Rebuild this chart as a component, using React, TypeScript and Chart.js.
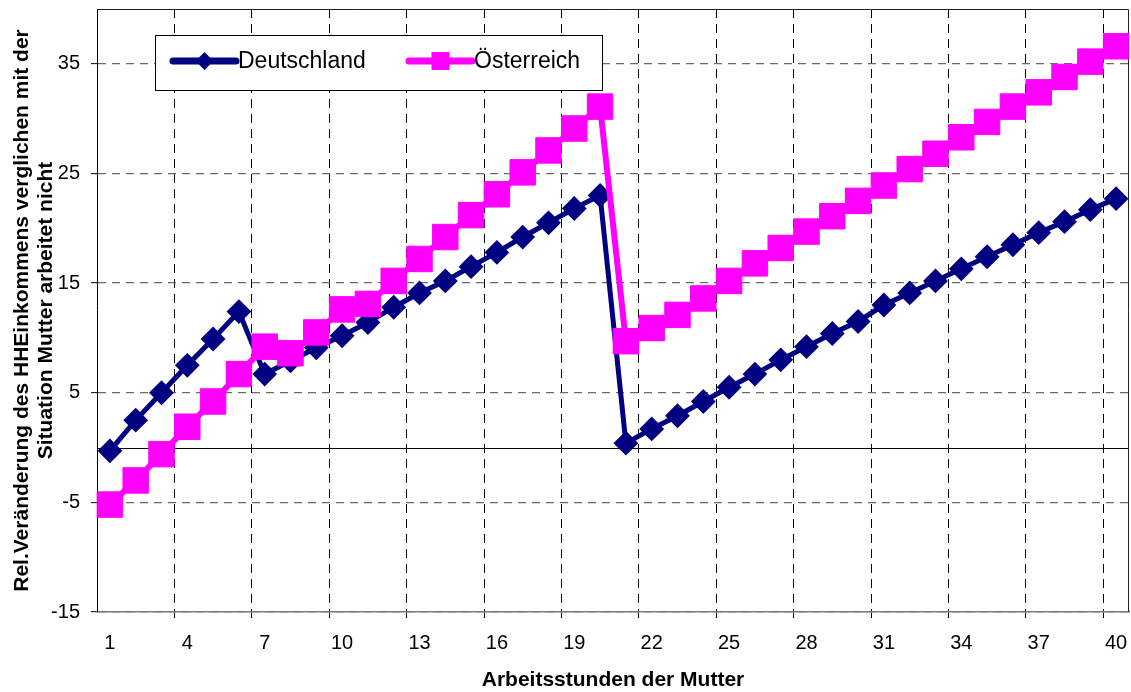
import React, { useEffect, useRef } from 'react';
import { Chart, registerables } from 'chart.js';

Chart.register(...registerables);

const categories = ['1','2','3','4','5','6','7','8','9','10','11','12','13','14','15','16','17','18','19','20','21','22','23','24','25','26','27','28','29','30','31','32','33','34','35','36','37','38','39','40'];
const xTickLabels = ['1','4','7','10','13','16','19','22','25','28','31','34','37','40'];
const yTicks = [-15, -5, 5, 15, 25, 35];

const deutschland = [-0.3, 2.5, 5.0, 7.5, 9.9, 12.4, 6.7, 7.9, 9.1, 10.2, 11.4, 12.8, 14.1, 15.2, 16.5, 17.8, 19.2, 20.5, 21.8, 23.0, 0.4, 1.7, 2.9, 4.2, 5.5, 6.7, 8.0, 9.2, 10.4, 11.5, 13.0, 14.1, 15.2, 16.3, 17.4, 18.5, 19.6, 20.6, 21.7, 22.7];
const oesterreich = [-5.2, -3.0, -0.6, 1.9, 4.2, 6.7, 9.2, 8.6, 10.5, 12.6, 13.1, 15.2, 17.2, 19.2, 21.2, 23.1, 25.1, 27.1, 29.1, 31.1, 9.7, 10.9, 12.1, 13.6, 15.2, 16.8, 18.2, 19.7, 21.1, 22.5, 23.9, 25.4, 26.8, 28.3, 29.7, 31.1, 32.4, 33.8, 35.2, 36.6];

const seriesNames = ['Deutschland', 'Österreich'];
const NAVY = '#000080';
const MAGENTA = '#FF00FF';
const FONT = 'Arial, "Liberation Sans", sans-serif';

const framePlugin = {
  id: 'frame',
  beforeDatasetsDraw(chart: any) {
    const { ctx, chartArea: a, scales } = chart;
    const y0 = Math.round(scales.y.getPixelForValue(0)) + 0.5;
    ctx.save();
    ctx.strokeStyle = '#000';
    ctx.lineWidth = 1;
    ctx.setLineDash([]);
    ctx.beginPath();
    ctx.moveTo(a.left, y0);
    ctx.lineTo(a.right, y0);
    ctx.stroke();
    ctx.strokeStyle = '#222';
    ctx.beginPath();
    ctx.moveTo(a.left, a.top + 0.5);
    ctx.lineTo(a.right - 0.5, a.top + 0.5);
    ctx.lineTo(a.right - 0.5, a.bottom);
    ctx.stroke();
    ctx.restore();
  },
  afterDraw(chart: any) {
    const { ctx, chartArea: a } = chart;
    const bx = a.left + 58;
    const by = a.top + 26;
    const bw = 448;
    const bh = 56;
    ctx.save();
    ctx.fillStyle = '#fff';
    ctx.fillRect(bx, by, bw, bh);
    ctx.strokeStyle = '#000';
    ctx.lineWidth = 1;
    ctx.strokeRect(bx + 0.5, by + 0.5, bw - 1, bh - 1);
    const cy = by + 26;
    const starts = [bx + 18, bx + 254];
    chart.data.datasets.forEach((ds: any, i: number) => {
      const sx = starts[i];
      const ex = sx + 63;
      ctx.strokeStyle = ds.borderColor;
      ctx.lineWidth = 7;
      ctx.lineCap = 'round';
      ctx.beginPath();
      ctx.moveTo(sx, cy);
      ctx.lineTo(ex, cy);
      ctx.stroke();
      const mx = (sx + ex) / 2;
      ctx.fillStyle = ds.borderColor;
      ctx.beginPath();
      if (ds.pointStyle === 'rectRot') {
        const r = 9;
        ctx.moveTo(mx, cy - r);
        ctx.lineTo(mx + r, cy);
        ctx.lineTo(mx, cy + r);
        ctx.lineTo(mx - r, cy);
        ctx.closePath();
      } else {
        ctx.rect(mx - 9, cy - 9, 18, 18);
      }
      ctx.fill();
      ctx.fillStyle = '#000';
      ctx.font = `23px ${FONT}`;
      ctx.textBaseline = 'middle';
      ctx.textAlign = 'left';
      ctx.fillText(ds.label, ex + 2, cy + 1);
    });
    ctx.restore();
  },
};

export default function App() {
  const canvasRef = useRef<HTMLCanvasElement | null>(null);

  useEffect(() => {
    document.body.style.margin = '0';
    const canvas = canvasRef.current;
    if (!canvas) return;
    Chart.defaults.font.family = FONT;
    Chart.defaults.color = '#000';
    const chart = new Chart(canvas, {
      type: 'line',
      data: {
        labels: categories,
        datasets: [
          {
            label: seriesNames[0],
            data: deutschland,
            borderColor: NAVY,
            backgroundColor: NAVY,
            borderWidth: 5,
            pointStyle: 'rectRot',
            pointRadius: 11,
            pointBorderWidth: 2,
            pointBackgroundColor: NAVY,
            pointBorderColor: NAVY,
            tension: 0,
            order: 1,
            clip: false as any,
          },
          {
            label: seriesNames[1],
            data: oesterreich,
            borderColor: MAGENTA,
            backgroundColor: MAGENTA,
            borderWidth: 6,
            pointStyle: 'rect',
            pointRadius: 18,
            pointBorderWidth: 1,
            pointBackgroundColor: MAGENTA,
            pointBorderColor: MAGENTA,
            tension: 0,
            order: 0,
            clip: false as any,
          },
        ],
      },
      options: {
        responsive: false,
        animation: false,
        events: [],
        layout: { autoPadding: false, padding: { left: 0, top: 9, right: 2, bottom: 0 } },
        plugins: {
          legend: { display: false },
          tooltip: { enabled: false },
        },
        scales: {
          x: {
            type: 'category',
            offset: true,
            grid: {
              offset: true,
              color: (c: any) => (c.index % 3 === 0 && c.index > 0 && c.index < categories.length ? '#000' : 'rgba(0,0,0,0)'),
              lineWidth: 1,
              tickLength: 6,
            },
            border: { display: true, color: '#777', width: 1.5, dash: [9, 6] },
            ticks: {
              autoSkip: false,
              maxRotation: 0,
              minRotation: 0,
              padding: 13,
              font: { size: 20 },
              color: '#000',
              callback: (_v: any, i: number) => (xTickLabels.includes(categories[i]) ? categories[i] : ''),
            },
            title: {
              display: true,
              text: 'Arbeitsstunden der Mutter',
              font: { size: 21, weight: 'bold', lineHeight: 1.15 },
              color: '#000',
              padding: { top: 0, bottom: 0 },
            },
            afterFit: (s: any) => { s.height = 80; s.paddingLeft = 0; s.paddingRight = 0; },
          },
          y: {
            type: 'linear',
            min: -15,
            max: 40,
            afterBuildTicks: (axis: any) => { axis.ticks = yTicks.map((v) => ({ value: v })); },
            grid: {
              color: '#6a6a6a',
              lineWidth: 1.3,
              tickLength: 6,
              tickColor: '#000',
              tickWidth: 1,
            },
            border: { display: true, color: '#000', width: 1, dash: [8, 6] },
            ticks: {
              padding: 11,
              font: { size: 20 },
              color: '#000',
            },
            title: {
              display: true,
              text: ['Rel.Veränderung des HHEinkommens verglichen mit der', 'Situation Mutter arbeitet nicht'],
              font: { size: 21, weight: 'bold', lineHeight: 1.15 },
              color: '#000',
              padding: { top: 10, bottom: 0 },
            },
            afterFit: (s: any) => { s.width = 97; s.paddingTop = 0; s.paddingBottom = 0; },
          },
        },
      },
      plugins: [framePlugin],
    } as any);
    return () => chart.destroy();
  }, []);

  return (
    <div style={{ width: 1131, height: 692, background: '#fff' }}>
      <canvas ref={canvasRef} width={1131} height={692} style={{ display: 'block' }} />
    </div>
  );
}
